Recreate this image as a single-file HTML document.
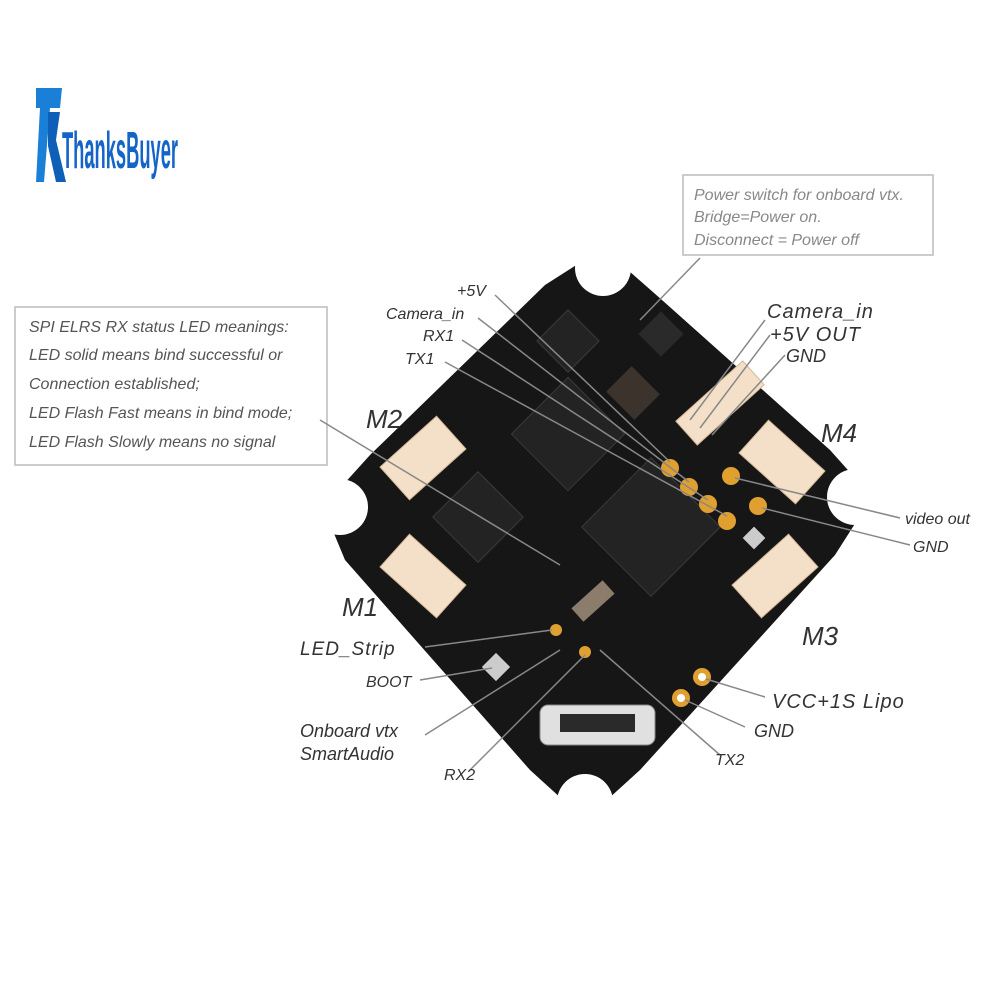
<!DOCTYPE html>
<html><head><style>
body{margin:0;background:#fff;}
svg{display:block;}
text{font-family:"Liberation Sans",sans-serif;font-style:italic;fill:#333;}
</style></head><body>
<svg width="1000" height="1000" viewBox="0 0 1000 1000">
<!-- logo -->
<path d="M36 88 L62 88 L60 108 L50 108 L44 182 L36 182 L40 108 L36 108 Z" fill="#1a7fd6"/>
<path d="M48 112 L60 112 L56 140 L66 182 L56 182 L48 146 Z" fill="#0d5fb8"/>
<text x="62" y="168" textLength="116" lengthAdjust="spacingAndGlyphs" style="font-style:normal;font-weight:bold;font-size:52px;fill:#1565c8">ThanksBuyer</text>

<!-- callout boxes -->
<rect x="683" y="175" width="250" height="80" fill="#fff" stroke="#bbb" stroke-width="1.5"/>
<text x="694" y="200" font-size="16" style="fill:#888">Power switch for onboard vtx.</text>
<text x="694" y="222" font-size="16" style="fill:#888">Bridge=Power on.</text>
<text x="694" y="245" font-size="16" style="fill:#888">Disconnect = Power off</text>

<rect x="15" y="307" width="312" height="158" fill="#fff" stroke="#bbb" stroke-width="1.5"/>
<text x="29" y="332" font-size="16" style="fill:#555">SPI ELRS RX status LED meanings:</text>
<text x="29" y="360" font-size="16" style="fill:#555">LED solid means bind successful or</text>
<text x="29" y="389" font-size="16" style="fill:#555">Connection established;</text>
<text x="29" y="418" font-size="16" style="fill:#555">LED Flash Fast means in bind mode;</text>
<text x="29" y="447" font-size="16" style="fill:#555">LED Flash Slowly means no signal</text>

<!-- board -->
<polygon points="545,285 603,248 662,300 830,450 872,497 835,555 640,770 585,820 530,770 345,560 323,507 370,455" fill="#161616"/>
<circle cx="603" cy="268" r="28" fill="#fff"/>
<circle cx="855" cy="497" r="28" fill="#fff"/>
<circle cx="585" cy="802" r="28" fill="#fff"/>
<circle cx="340" cy="507" r="28" fill="#fff"/>

<!-- chips -->
<g fill="#232323" stroke="#3a3a3a">
<rect x="528" y="394" width="80" height="80" transform="rotate(45 568 434)"/>
<rect x="602" y="478" width="98" height="98" transform="rotate(45 651 527)"/>
<rect x="446" y="485" width="64" height="64" transform="rotate(45 478 517)"/>
<rect x="546" y="319" width="44" height="44" transform="rotate(45 568 341)"/>
</g>
<rect x="645" y="318" width="32" height="32" fill="#2a2a2a" transform="rotate(45 661 334)"/>
<rect x="613" y="375" width="40" height="36" fill="#3b332c" transform="rotate(45 633 393)"/>
<rect x="572" y="592" width="42" height="18" fill="#8b7c6c" transform="rotate(-42 593 601)"/>

<!-- connectors -->
<g fill="#f4e0c8" stroke="#d4b896">
<rect x="385" y="436" width="76" height="44" transform="rotate(-42 423 458)"/>
<rect x="385" y="554" width="76" height="44" transform="rotate(42 423 576)"/>
<rect x="744" y="440" width="76" height="44" transform="rotate(42 782 462)"/>
<rect x="737" y="554" width="76" height="44" transform="rotate(-42 775 576)"/>
<rect x="675" y="387" width="90" height="32" transform="rotate(-42 720 403)"/>
</g>

<!-- usb -->
<rect x="540" y="705" width="115" height="40" rx="8" fill="#e0e0e0" stroke="#888"/>
<rect x="560" y="714" width="75" height="18" fill="#2a2a2a"/>

<!-- pads -->
<g fill="#e0a030">
<circle cx="670" cy="468" r="9"/><circle cx="689" cy="487" r="9"/><circle cx="708" cy="504" r="9"/><circle cx="727" cy="521" r="9"/>
<circle cx="731" cy="476" r="9"/><circle cx="758" cy="506" r="9"/>
<circle cx="702" cy="677" r="9"/><circle cx="681" cy="698" r="9"/>
<circle cx="556" cy="630" r="6"/><circle cx="585" cy="652" r="6"/>
</g>
<circle cx="702" cy="677" r="4" fill="#fff"/><circle cx="681" cy="698" r="4" fill="#fff"/>
<rect x="486" y="657" width="20" height="20" fill="#ccc" transform="rotate(45 496 667)"/>
<rect x="746" y="530" width="16" height="16" fill="#ccc" transform="rotate(45 754 538)"/>

<!-- leader lines -->
<g stroke="#888" stroke-width="1.5" fill="none">
<line x1="700" y1="258" x2="640" y2="320"/>
<line x1="320" y1="420" x2="560" y2="565"/>
<line x1="495" y1="295" x2="670" y2="462"/>
<line x1="478" y1="318" x2="689" y2="482"/>
<line x1="462" y1="340" x2="708" y2="500"/>
<line x1="445" y1="362" x2="727" y2="516"/>
<line x1="765" y1="320" x2="690" y2="420"/>
<line x1="770" y1="335" x2="700" y2="428"/>
<line x1="785" y1="355" x2="712" y2="435"/>
<line x1="900" y1="518" x2="735" y2="478"/>
<line x1="910" y1="545" x2="762" y2="508"/>
<line x1="425" y1="647" x2="552" y2="630"/>
<line x1="420" y1="680" x2="492" y2="668"/>
<line x1="425" y1="735" x2="560" y2="650"/>
<line x1="470" y1="770" x2="585" y2="655"/>
<line x1="765" y1="697" x2="706" y2="679"/>
<line x1="745" y1="727" x2="685" y2="700"/>
<line x1="720" y1="755" x2="600" y2="650"/>
</g>

<!-- labels -->
<text x="457" y="296" font-size="16">+5V</text>
<text x="386" y="319" font-size="16">Camera_in</text>
<text x="423" y="341" font-size="16">RX1</text>
<text x="405" y="364" font-size="16">TX1</text>
<text x="767" y="318" font-size="20" style="letter-spacing:1px">Camera_in</text>
<text x="770" y="341" font-size="20" style="letter-spacing:1px">+5V OUT</text>
<text x="786" y="362" font-size="18">GND</text>
<text x="366" y="428" font-size="26">M2</text>
<text x="821" y="442" font-size="26">M4</text>
<text x="342" y="616" font-size="26">M1</text>
<text x="802" y="645" font-size="26">M3</text>
<text x="905" y="524" font-size="16">video out</text>
<text x="913" y="552" font-size="16">GND</text>
<text x="300" y="655" font-size="19" style="letter-spacing:1px">LED_Strip</text>
<text x="366" y="687" font-size="16">BOOT</text>
<text x="300" y="737" font-size="18">Onboard vtx</text>
<text x="300" y="760" font-size="18">SmartAudio</text>
<text x="444" y="780" font-size="16">RX2</text>
<text x="772" y="708" font-size="20" style="letter-spacing:1px">VCC+1S Lipo</text>
<text x="754" y="737" font-size="18">GND</text>
<text x="715" y="765" font-size="16">TX2</text>
</svg>
</body></html>
